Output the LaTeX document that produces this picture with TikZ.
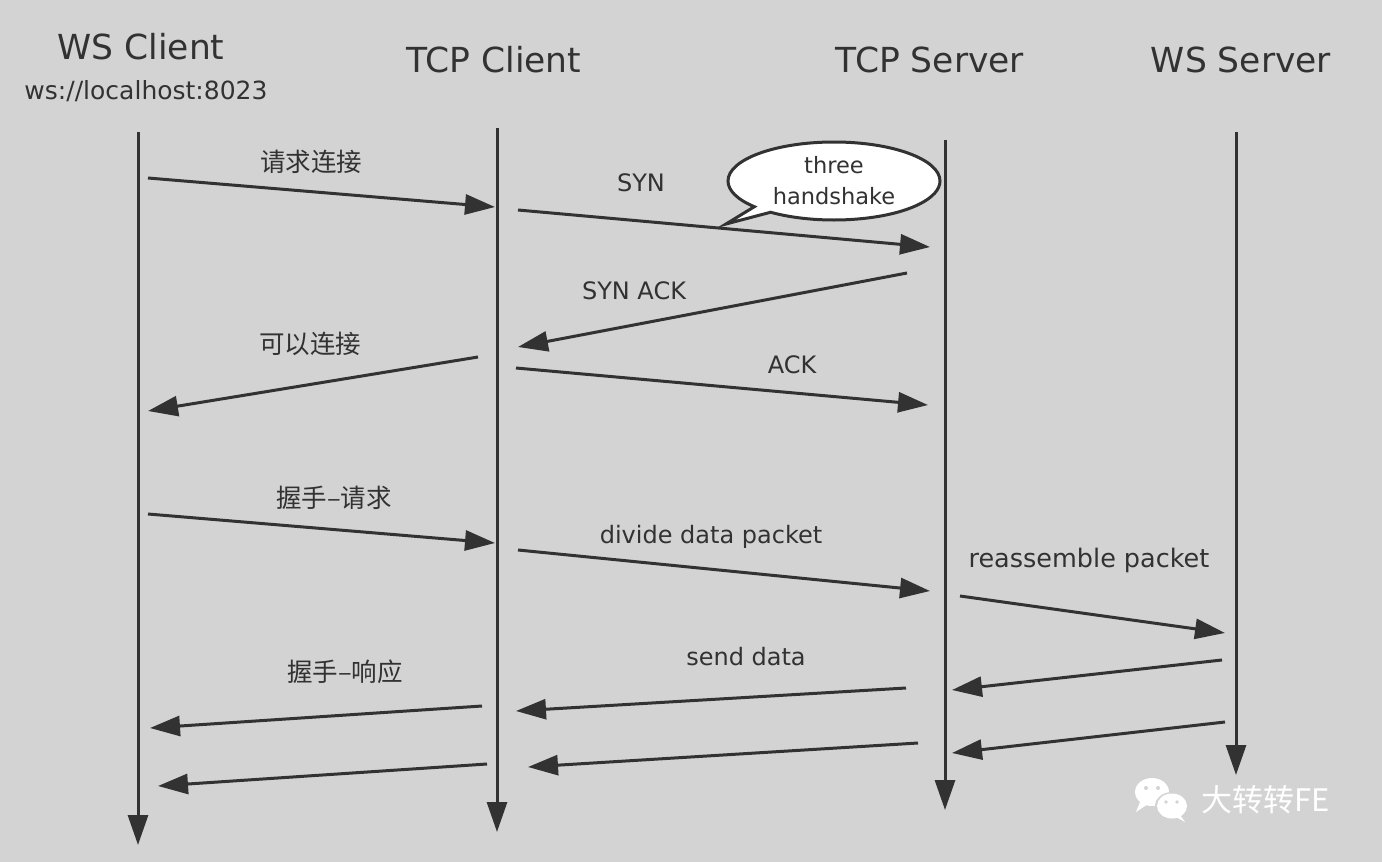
\documentclass[tikz,border=0pt]{standalone}
\usepackage{fontspec}
\setmainfont{DejaVu Sans}
\newfontfamily\cjk{Noto Sans CJK SC}
\usetikzlibrary{arrows.meta,shapes.callouts}
\definecolor{bg}{RGB}{211,211,211}
\definecolor{ink}{RGB}{50,50,50}
\tikzset{
  lifeline/.style={draw=ink,line width=3pt,-{Triangle[length=30pt,width=20pt]}},
  msg/.style={draw=ink,line width=3pt,-{Triangle[length=30pt,width=20pt]}},
  title/.style={font=\fontsize{34.5}{37}\selectfont,text=ink,inner sep=0pt},
  lbl/.style={font=\fontsize{24}{26}\selectfont,text=ink,inner sep=0pt},
  clbl/.style={font=\cjk\fontsize{25.5}{27}\selectfont,text=ink,inner sep=0pt},
}
\begin{document}
\begin{tikzpicture}[x=1pt,y=-1pt]
\fill[bg] (0,0) rectangle (1382,862);
\useasboundingbox (0,0) rectangle (1382,862);
% titles
\node[title] (t1) at (141,47) {WS Client};
\node[font=\fontsize{25}{27}\selectfont,text=ink,inner sep=0pt] (t1b) at (146,91) {ws://localhost:8023};
\node[title] (t2) at (494,60) {TCP Client};
\node[title] (t3) at (930,60) {TCP Server};
\node[title] (t4) at (1241,60) {WS Server};
% lifelines
\coordinate (a0) at (138,132); \coordinate (a1) at (138,845);
\coordinate (b0) at (497,128); \coordinate (b1) at (497,832);
\coordinate (c0) at (945,140); \coordinate (c1) at (945,810);
\coordinate (d0) at (1236,132); \coordinate (d1) at (1236,775);
\draw[lifeline] (a0) -- (a1);
\draw[lifeline] (b0) -- (b1);
\draw[lifeline] (c0) -- (c1);
\draw[lifeline] (d0) -- (d1);
% messages
\coordinate (m1s) at (148,178); \coordinate (m1e) at (495,207);
\coordinate (m2s) at (518,210); \coordinate (m2e) at (930,247);
\coordinate (m3s) at (907,273); \coordinate (m3e) at (518,347);
\coordinate (m4s) at (478,357); \coordinate (m4e) at (148,411);
\coordinate (m5s) at (516,368); \coordinate (m5e) at (928,405);
\coordinate (m6s) at (148,514); \coordinate (m6e) at (495,543);
\coordinate (m7s) at (518,550); \coordinate (m7e) at (930,591);
\coordinate (m8s) at (960,596); \coordinate (m8e) at (1225,633);
\coordinate (m9s) at (1222,660); \coordinate (m9e) at (952,690);
\coordinate (m10s) at (906,688); \coordinate (m10e) at (516,711);
\coordinate (m11s) at (482,706); \coordinate (m11e) at (150,728);
\coordinate (m12s) at (1225,722); \coordinate (m12e) at (952,753);
\coordinate (m13s) at (918,743); \coordinate (m13e) at (528,767);
\coordinate (m14s) at (487,764); \coordinate (m14e) at (158,786);
\foreach \i in {1,...,14} {\draw[msg] (m\i s) -- (m\i e);}
% labels
\node[clbl] (l1) at (311,162) {请求连接};
\node[lbl] (l2) at (641,183) {SYN};
\node[lbl] (l3) at (634,291) {SYN ACK};
\node[clbl] (l4) at (310,344) {可以连接};
\node[lbl] (l5) at (792,365) {ACK};
\node[clbl] (l6) at (334,498) {握手–请求};
\node[lbl] (l7) at (711,537) {divide data packet};
\node[lbl,font=\fontsize{25.5}{27}\selectfont] (l8) at (1089,560) {reassemble packet};
\node[lbl] (l10) at (746,657) {send data};
\node[clbl] (l11) at (345,672) {握手–响应};
% bubble
\node[ellipse callout,draw=ink,fill=white,line width=3pt,minimum width=212pt,minimum height=78pt,
  callout absolute pointer={(726,224)},callout pointer arc=12,
  align=center,font=\fontsize{22.5}{31}\selectfont,text=ink,inner sep=0pt] (bub) at (834,181) {three\\handshake};
% watermark
\fill[white] (1152,792) ellipse[x radius=17pt,y radius=14pt];
\fill[white] (1140,802) -- (1136,812) -- (1148,804) -- cycle;
\fill[bg] (1172,806) ellipse[x radius=17pt,y radius=14pt];
\fill[white] (1172,806) ellipse[x radius=15pt,y radius=12.5pt];
\fill[white] (1180,815) -- (1185,822) -- (1174,816) -- cycle;
\fill[bg] (1146,788) circle (2pt); \fill[bg] (1158,788) circle (2pt);
\fill[bg] (1166,802) circle (1.8pt); \fill[bg] (1177,802) circle (1.8pt);
\node[font=\cjk\fontsize{31}{33}\selectfont,text=white,inner sep=0pt] (wm) at (1266,800) {大转转FE};
\end{tikzpicture}
\end{document}
